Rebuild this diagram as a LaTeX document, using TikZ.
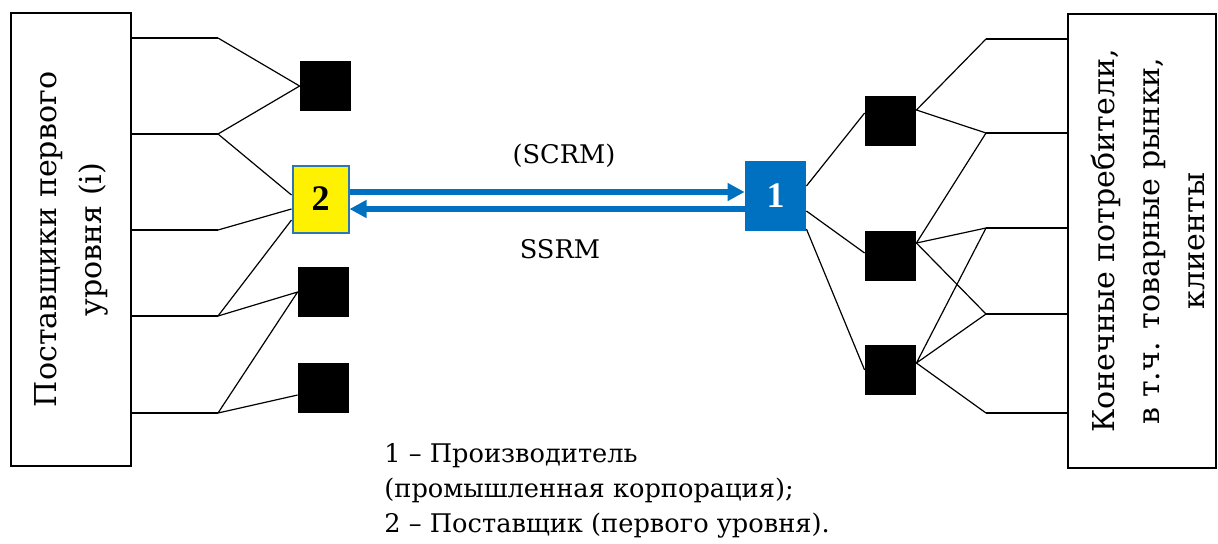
\documentclass[tikz,border=0pt]{standalone}
\usepackage{fontspec}
\setmainfont{DejaVu Serif}[Scale=0.885]
\newfontfamily\numfont{Liberation Serif}
\usetikzlibrary{arrows.meta,calc}
\definecolor{scmblue}{HTML}{0070C0}
\definecolor{frameblue}{HTML}{2E75B6}
\begin{document}
\begin{tikzpicture}[x=0.5pt,y=-0.5pt,
  bigbox/.style={draw, line width=1.4pt, inner sep=0},
  blk/.style={fill=black, inner sep=0, minimum width=25.5pt, minimum height=25pt},
  link/.style={line width=0.6pt},
  flow/.style={draw=scmblue, line width=2.8pt, -{Triangle[length=8.5pt,width=8.5pt]}},
  vlabel/.style={rotate=90, align=center, font=\fontsize{17}{22.5}\selectfont},
  txt/.style={font=\fontsize{14.5}{17.5}\selectfont, inner sep=0},
  numbox/.style={inner sep=0, font=\numfont\fontsize{18}{20}\selectfont\bfseries},
  ]
\useasboundingbox (0,0) rectangle (1218,543);

% outer boxes
\node[bigbox, minimum width=60pt, minimum height=226.5pt] (L) at (71,239.5) {};
\node[bigbox, minimum width=74pt, minimum height=227pt] (R) at (1142,241) {};
\node[vlabel] (Ltext) at (L.center) {Поставщики первого\\уровня (i)};
\node[vlabel] (Rtext) at ([xshift=3pt]R.center) {Конечные потребители,\\в т.ч. товарные рынки,\\клиенты};

% suppliers column
\node[blk] (A) at (325.5,86) {};
\node[numbox, fill=yellow, draw=frameblue, line width=1pt, minimum width=28pt, minimum height=33.5pt] (S) at (320.5,199) {2};
\node[blk] (C) at (323.5,292) {};
\node[blk] (D) at (323.5,388) {};

% manufacturer and customers column
\node[numbox, fill=scmblue, minimum width=30.5pt, minimum height=35pt, text=white] (M) at (775.5,196) {1};
\node[blk] (P1) at (890.5,121) {};
\node[blk] (P2) at (890.5,256) {};
\node[blk] (P3) at (890.5,370) {};

% junctions
\foreach \i/\y in {1/38,2/134,3/230,4/316,5/413} {
  \coordinate (jl\i) at (218,\y);
  \draw[link] (L.east |- jl\i) -- (jl\i);
}
\foreach \i/\y in {1/39,2/133,3/228,4/314,5/413} {
  \coordinate (jr\i) at (986,\y);
  \draw[link] (jr\i) -- (R.west |- jr\i);
}

% left links
\draw[link] (jl1) -- (A.west) -- (jl2) -- ([yshift=2pt]S.west);
\draw[link] (jl3) -- ([yshift=-5pt]S.west);
\draw[link] (jl4) -- ([yshift=-10.5pt]S.west);
\draw[link] (jl4) -- (C.west) -- (jl5) -- ([yshift=-3.5pt]D.west);

% right links
\draw[link] ([yshift=5pt]M.east) -- ([yshift=4pt]P1.west);
\draw[link] ([yshift=-7.5pt]M.east) -- ([yshift=1.5pt]P2.west);
\draw[link] ([yshift=-16.5pt]M.east) -- (P3.west);
\draw[link] (jr1) -- ([yshift=5.5pt]P1.east) -- (jr2);
\draw[link] (jr2) -- ([yshift=6.5pt]P2.east) -- (jr3);
\draw[link] ([yshift=6.5pt]P2.east) -- (jr4);
\draw[link] (jr3) -- ([yshift=3.5pt]P3.east) -- (jr4);
\draw[link] ([yshift=3.5pt]P3.east) -- (jr5);

% SCRM / SSRM flows
\draw[flow] ([yshift=3.5pt]S.east) -- ([yshift=3.5pt]S.east -| M.west);
\draw[flow] ([yshift=-5pt]S.east -| M.west) -- ([yshift=-5pt]S.east);
\node[txt] (scrm) at (564,156) {(SCRM)};
\node[txt] (ssrm) at (560,249) {SSRM};

% legend
\node[txt, anchor=north west, align=left] (legend) at (384,443)
  {1 – Производитель\\(промышленная корпорация);\\2 – Поставщик (первого уровня).};
\end{tikzpicture}
\end{document}
